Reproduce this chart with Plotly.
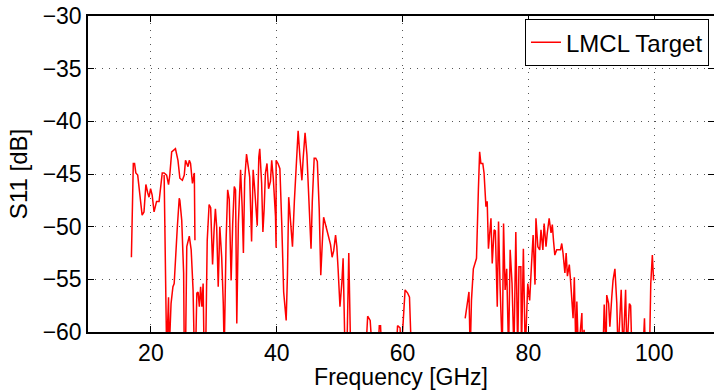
import plotly.graph_objects as go

# Band 1 (approx. 17-27 GHz)
band1_freq = [16.9, 17.2, 17.4, 17.6, 17.9, 18.2, 18.6, 18.9, 19.2, 19.5, 19.7, 19.95, 20.2, 20.5,
              20.9, 21.3, 21.5, 21.8, 22.1, 22.5, 22.8, 23.0, 23.3, 23.7, 23.9, 24.3, 24.6, 25.0,
              25.3, 25.5, 25.9, 26.1, 26.3, 26.6, 26.9, 27.0]
band1_s11 = [-52.9, -44.0, -44.0, -44.9, -45.1, -46.5, -48.9, -48.6, -46.0, -46.8, -47.2, -46.4, -47.0, -48.6,
             -47.6, -47.6, -46.2, -44.9, -44.9, -45.1, -46.0, -45.1, -42.9, -42.7, -42.6, -43.7, -45.4, -45.6,
             -45.1, -43.7, -44.3, -43.7, -44.0, -45.9, -44.9, -51.3]

# Bands 2 and 3 (approx. 22-62 GHz)
band2_freq = [22.1, 22.35, 22.5, 22.8, 22.9, 23.2, 23.5, 23.7, 23.95, 24.2, 24.5, 24.6, 24.9, 25.2,
              25.3, 25.5, 25.7, 26.0, 26.1, 26.4, 26.7, 26.9, 27.1, 27.3, 27.5, 27.7, 27.9, 28.1,
              28.3, 28.45, 28.7, 28.95, 29.25, 29.5, 29.8, 30.05, 30.25, 30.45, 30.7, 30.95, 31.25,
              31.5, 31.65, 31.95, 32.2, 32.45, 32.75, 33.0, 33.25, 33.45, 33.65, 33.9, 34.25, 34.5,
              34.7, 34.9, 35.2, 35.4, 35.7, 36.0, 36.25, 36.5, 36.8, 36.9, 37.15, 37.3, 37.6, 37.8,
              38.0, 38.2, 38.45, 38.7, 39.0, 39.2, 39.45, 39.7, 39.8, 39.9,
              39.9, 40.2, 40.5, 40.8, 41.1, 41.5, 41.7, 41.9, 42.2, 42.5, 42.8, 43.2, 43.4, 43.7,
              44.0, 44.2, 44.5, 44.8, 45.0, 45.2, 45.45, 45.65, 45.95, 46.2, 46.45, 46.75, 47.0,
              47.25, 47.45, 47.75, 48.05, 48.25, 48.55, 48.8, 49.05, 49.35, 49.55, 49.75, 50.05,
              50.35, 50.55, 50.85, 51.15, 51.45, 51.75, 54.15, 54.45, 54.85, 55.2, 56.1, 56.3, 56.5,
              56.7, 59.0, 59.2, 59.6, 59.8, 60.4, 60.8, 61.1, 61.4]
band2_s11 = [-45.1, -53.8, -62, -56.7, -62, -57.3, -55.7, -55.4, -53.2, -50.0, -47.3, -47.5, -49.4, -54.4,
             -62, -62, -51.9, -51.0, -50.9, -52.2, -56.0, -62, -62, -56.3, -56.2, -57.6, -55.7, -57.6,
             -55.4, -62, -62, -51.3, -47.9, -48.2, -53.6, -50.2, -48.3, -50.0, -55.7, -50.0, -52.9,
             -57.3, -62, -51.3, -46.5, -47.4, -55.1, -49.7, -46.2, -46.5, -59.2, -49.7, -44.6, -48.1,
             -52.5, -45.6, -43.1, -44.0, -45.3, -51.4, -44.6, -46.5, -49.1, -49.9, -43.4, -42.6, -45.9, -50.5,
             -48.3, -44.9, -44.0, -46.4, -45.7, -43.7, -45.4, -48.6, -49.0, -52.0,
             -43.7, -44.0, -44.5, -49.8, -56.2, -58.9, -54.6, -47.2, -49.3, -51.9, -47.6, -42.9, -40.9, -43.5,
             -45.6, -43.5, -41.1, -43.2, -46.0, -49.5, -52.1, -47.6, -43.5, -43.5, -43.8, -48.3, -54.6,
             -51.4, -49.1, -49.8, -50.5, -51.1, -51.7, -52.9, -52.3, -50.8, -51.9, -54.0, -57.6,
             -55.3, -53.0, -62, -62, -52.5, -62, -62, -58.5, -58.9, -62, -62, -59.4, -59.4,
             -62, -62, -59.4, -59.6, -62, -56.0, -56.3, -56.7, -62]

# Band 4 (approx. 70-100 GHz)
band4_freq = [69.95, 70.55, 70.75, 70.95, 71.25, 71.45, 71.75, 72.05, 72.25, 72.45, 72.75, 72.95, 73.25,
              73.45, 73.65, 74.05, 74.25, 74.55, 74.75, 75.05, 75.25, 75.5, 75.85, 76.05, 76.3, 76.55,
              76.85, 77.1, 77.4, 77.7, 78.0, 78.3, 78.5, 78.8, 78.9, 79.2, 79.5, 79.9, 80.2, 80.5,
              80.75, 81.05, 81.2, 81.5, 81.8, 82.0, 82.3, 82.5, 82.8, 83.0, 83.3, 83.6, 83.8, 84.0,
              84.2, 84.5, 84.8, 85.1, 85.3, 85.5, 85.8, 86.0, 86.2, 86.5, 86.7, 86.9, 87.1, 87.3,
              87.55, 87.7, 87.95, 88.5, 88.6, 88.85, 89.05, 91.85, 92.05, 92.35, 92.45, 92.75, 92.95,
              93.25, 93.45, 93.75, 94.05, 94.25, 94.75, 95.05, 95.45, 95.65, 96.05, 96.25, 96.45,
              98.2, 98.45, 98.6, 99.25, 99.45, 99.7, 99.9]
band4_s11 = [-58.7, -56.2, -62, -57.0, -54.0, -53.5, -53.0, -46.5, -42.9, -44.0, -44.0, -44.9, -48.1,
             -47.6, -52.1, -49.2, -53.5, -50.3, -50.4, -57.6, -49.5, -55.7, -62, -49.7, -56.0, -54.0,
             -62, -52.2, -55.4, -62, -50.5, -62, -53.8, -53.8, -62, -52.1, -62, -55.4, -57.0, -53.5,
             -50.8, -55.5, -49.2, -51.9, -52.2, -50.3, -52.2, -49.7, -51.9, -50.6, -49.2, -50.6, -49.8, -51.4,
             -52.7, -52.2, -52.2, -52.2, -51.6, -52.5, -54.4, -52.5, -54.7, -53.6, -55.1, -57.6, -58.7, -54.8,
             -62, -57.1, -62, -58.2, -62, -59.8, -62, -62, -57.4, -62, -56.5, -57.3, -59.5,
             -56.7, -55.1, -54.0, -57.3, -62, -56.0, -62, -56.0, -62, -57.3, -57.5, -62,
             -62, -58.7, -62, -62, -55.4, -52.7, -55.1]

x_ticks = [20, 40, 60, 80, 100]
y_ticks = [-60, -55, -50, -45, -40, -35, -30]

freq = band1_freq + [None] + band2_freq + [None] + band4_freq
s11 = band1_s11 + [None] + band2_s11 + [None] + band4_s11

FONT = "Liberation Sans, Arial, Helvetica, sans-serif"

fig = go.Figure()
fig.add_trace(go.Scatter(x=freq, y=s11, mode="lines", name="LMCL Target",
                         line=dict(color="#ff0000", width=1.5), connectgaps=False))

axis_common = dict(showline=True, linecolor="black", linewidth=1.5, mirror="ticks",
                   ticks="inside", ticklen=6, tickcolor="black", tickwidth=1,
                   showgrid=True, gridcolor="#555555", griddash="1px,6px", gridwidth=1,
                   zeroline=False, automargin=False,
                   tickfont=dict(family=FONT, size=23, color="black"))

fig.update_xaxes(range=[10, 109.5], tickvals=x_ticks,
                 title=dict(text="Frequency [GHz]", font=dict(family=FONT, size=23, color="black"), standoff=0),
                 **axis_common)
fig.update_yaxes(range=[-60, -30], tickvals=y_ticks,
                 title=dict(text="S11 [dB]", font=dict(family=FONT, size=24, color="black"), standoff=8),
                 **axis_common)

fig.update_layout(width=714, height=390, margin=dict(l=88, r=0, t=16, b=58),
                  paper_bgcolor="white", plot_bgcolor="white",
                  font=dict(family=FONT, size=23, color="black"),
                  showlegend=True,
                  legend=dict(x=0.992, y=0.99, xanchor="right", yanchor="top",
                              bordercolor="black", borderwidth=1, bgcolor="white",
                              font=dict(family=FONT, size=24, color="black"),
                              tracegroupgap=0))

fig.write_html("out.html", config={"displayModeBar": False},
               post_script="document.body.style.margin='0';document.body.style.overflow='hidden';")
